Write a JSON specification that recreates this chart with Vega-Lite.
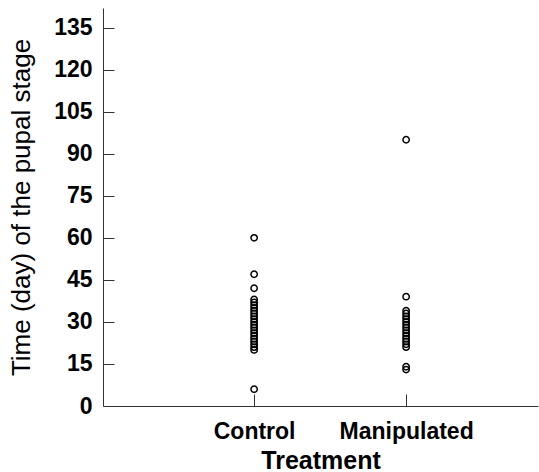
{
  "$schema": "https://vega.github.io/schema/vega-lite/v6.json",
  "autosize": "none",
  "width": 435,
  "height": 398,
  "padding": {"left": 103, "top": 8, "right": 1, "bottom": 66},
  "background": "white",
  "config": {
    "view": {"stroke": null},
    "font": "Liberation Sans"
  },
  "data": {
    "values": [
      {"Treatment": "Control", "days": 60},
      {"Treatment": "Control", "days": 47},
      {"Treatment": "Control", "days": 42},
      {"Treatment": "Control", "days": 38},
      {"Treatment": "Control", "days": 37},
      {"Treatment": "Control", "days": 36},
      {"Treatment": "Control", "days": 35},
      {"Treatment": "Control", "days": 34},
      {"Treatment": "Control", "days": 33},
      {"Treatment": "Control", "days": 32},
      {"Treatment": "Control", "days": 31},
      {"Treatment": "Control", "days": 30},
      {"Treatment": "Control", "days": 29},
      {"Treatment": "Control", "days": 28},
      {"Treatment": "Control", "days": 27},
      {"Treatment": "Control", "days": 26},
      {"Treatment": "Control", "days": 25},
      {"Treatment": "Control", "days": 24},
      {"Treatment": "Control", "days": 23},
      {"Treatment": "Control", "days": 22},
      {"Treatment": "Control", "days": 21},
      {"Treatment": "Control", "days": 20},
      {"Treatment": "Control", "days": 6},
      {"Treatment": "Manipulated", "days": 95},
      {"Treatment": "Manipulated", "days": 39},
      {"Treatment": "Manipulated", "days": 34},
      {"Treatment": "Manipulated", "days": 33},
      {"Treatment": "Manipulated", "days": 32},
      {"Treatment": "Manipulated", "days": 31},
      {"Treatment": "Manipulated", "days": 30},
      {"Treatment": "Manipulated", "days": 29},
      {"Treatment": "Manipulated", "days": 28},
      {"Treatment": "Manipulated", "days": 27},
      {"Treatment": "Manipulated", "days": 26},
      {"Treatment": "Manipulated", "days": 25},
      {"Treatment": "Manipulated", "days": 24},
      {"Treatment": "Manipulated", "days": 23},
      {"Treatment": "Manipulated", "days": 22},
      {"Treatment": "Manipulated", "days": 21},
      {"Treatment": "Manipulated", "days": 14},
      {"Treatment": "Manipulated", "days": 13}
    ]
  },
  "mark": {"type": "point", "shape": "circle", "filled": false, "color": "black", "size": 40, "strokeWidth": 1.5, "opacity": 1},
  "encoding": {
    "x": {
      "field": "Treatment",
      "type": "nominal",
      "scale": {"type": "point", "padding": 0.931, "align": 0.534},
      "axis": {
        "title": "Treatment",
        "titleFont": "Liberation Sans",
        "titleFontSize": 25,
        "titleFontWeight": "bold",
        "titleColor": "black",
        "titlePadding": 5,
        "labelAngle": 0,
        "labelFont": "Liberation Sans",
        "labelFontSize": 23,
        "labelFontWeight": "bold",
        "labelColor": "black",
        "labelPadding": 26,
        "tickSize": -12,
        "tickColor": "#333",
        "domainColor": "#333",
        "grid": false
      }
    },
    "y": {
      "field": "days",
      "type": "quantitative",
      "scale": {"domain": [0, 142], "nice": false, "zero": true},
      "axis": {
        "title": "Time (day) of the pupal stage",
        "titleFont": "Liberation Sans",
        "titleFontSize": 26,
        "titleFontWeight": "normal",
        "titleColor": "black",
        "titlePadding": 19,
        "values": [0, 15, 30, 45, 60, 75, 90, 105, 120, 135],
        "labelFont": "Liberation Sans",
        "labelFontSize": 23,
        "labelFontWeight": "bold",
        "labelColor": "black",
        "labelPadding": 22,
        "tickSize": -11,
        "tickColor": "#333",
        "domainColor": "#333",
        "grid": false
      }
    }
  }
}
